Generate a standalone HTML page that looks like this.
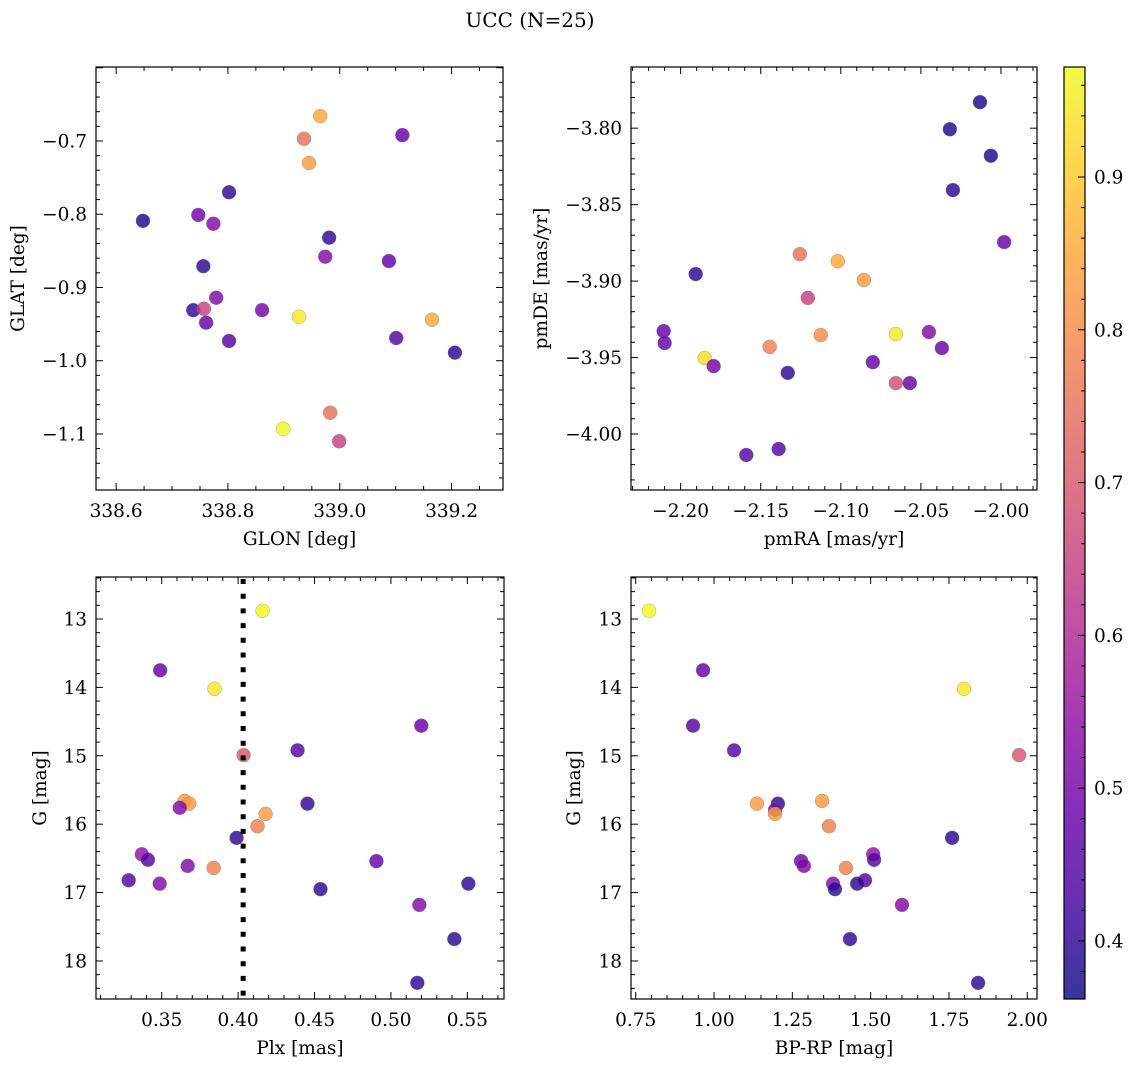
<!DOCTYPE html>
<html><head><meta charset="utf-8"><style>
html,body{margin:0;padding:0;background:#fff;}
svg{display:block;font-family:"DejaVu Serif","Liberation Serif",serif;}
</style></head><body>
<svg id="fig" width="1136" height="1067" viewBox="0 0 1136 1067" xmlns="http://www.w3.org/2000/svg">
<text x="530" y="27" font-size="20" text-anchor="middle">UCC (N=25)</text>
</svg>
<script>
// ---- data ----
const glon = [338.648,338.802,338.747,338.774,338.756,338.738,338.757,338.779,338.761,338.802,338.861,338.936,338.965,338.945,339.112,338.981,338.974,339.088,338.927,339.101,339.165,339.206,338.899,338.983,338.999];
const glat = [-0.809,-0.770,-0.801,-0.813,-0.871,-0.931,-0.929,-0.914,-0.948,-0.973,-0.931,-0.697,-0.666,-0.730,-0.692,-0.832,-0.858,-0.864,-0.940,-0.969,-0.944,-0.989,-1.093,-1.071,-1.110];
const cTL = [0.38,0.40,0.50,0.52,0.40,0.40,0.65,0.52,0.48,0.45,0.50,0.75,0.85,0.83,0.48,0.40,0.52,0.47,0.95,0.45,0.85,0.40,0.97,0.75,0.65];
const pmra = [-2.0131,-2.0319,-2.0063,-2.030,-1.998,-2.1906,-2.2106,-2.210,-2.185,-2.1794,-2.1256,-2.1206,-2.1019,-2.0856,-2.1125,-2.1444,-2.1331,-2.080,-2.0656,-2.045,-2.0369,-2.0656,-2.0569,-2.159,-2.1388];
const pmde = [-3.783,-3.8007,-3.818,-3.8405,-3.8745,-3.8954,-3.9327,-3.9405,-3.9503,-3.9556,-3.8824,-3.911,-3.887,-3.8993,-3.9353,-3.943,-3.960,-3.953,-3.9346,-3.9333,-3.9438,-3.9667,-3.9667,-4.0137,-4.0098];
const cTR = [0.38,0.38,0.38,0.40,0.48,0.40,0.48,0.48,0.93,0.50,0.75,0.65,0.85,0.83,0.80,0.78,0.40,0.48,0.95,0.52,0.48,0.68,0.48,0.45,0.45];
const plx = [0.416,0.349,0.3846,0.4036,0.4389,0.5199,0.365,0.368,0.3618,0.418,0.4127,0.4454,0.399,0.337,0.341,0.3284,0.367,0.384,0.3487,0.4905,0.4539,0.5507,0.5186,0.5415,0.5173];
const gBL = [12.88,13.75,14.02,14.99,14.92,14.56,15.66,15.70,15.76,15.85,16.03,15.70,16.20,16.44,16.52,16.82,16.61,16.64,16.87,16.54,16.95,16.87,17.18,17.68,18.32];
const cBL = [0.97,0.48,0.95,0.70,0.45,0.48,0.83,0.83,0.52,0.83,0.78,0.40,0.40,0.55,0.45,0.45,0.52,0.78,0.52,0.48,0.40,0.40,0.52,0.40,0.40];
const bprp = [0.7925,0.965,0.933,1.798,1.974,1.064,1.137,1.204,1.345,1.195,1.195,1.367,1.76,1.508,1.511,1.278,1.287,1.421,1.482,1.38,1.457,1.386,1.60,1.434,1.843];
const gBR = [12.88,13.75,14.56,14.02,14.99,14.92,15.70,15.70,15.66,15.79,15.85,16.03,16.20,16.44,16.52,16.54,16.61,16.64,16.82,16.87,16.87,16.95,17.18,17.68,18.32];
const cBR = [0.97,0.48,0.45,0.95,0.70,0.45,0.83,0.40,0.83,0.52,0.83,0.78,0.40,0.55,0.45,0.48,0.52,0.78,0.45,0.52,0.40,0.40,0.52,0.40,0.40];
const plxLine = [0.4033];
const ticksTLx = ["338.6","338.8","339.0","339.2"];
const ticksTLy = ["−0.7","−0.8","−0.9","−1.0","−1.1"];
const ticksTRx = ["−2.20","−2.15","−2.10","−2.05","−2.00"];
const ticksTRy = ["−3.80","−3.85","−3.90","−3.95","−4.00"];
const ticksBLx = ["0.35","0.40","0.45","0.50","0.55"];
const ticksG = ["13","14","15","16","17","18"];
const ticksBRx = ["0.75","1.00","1.25","1.50","1.75","2.00"];
const ticksCB = ["0.4","0.5","0.6","0.7","0.8","0.9"];
const cmin = 0.362, cmax = 0.972;

const NS = "http://www.w3.org/2000/svg";
const svg = document.getElementById('fig');
const FS = 18.5;
function mk(tag, attrs, parent){
  const e = document.createElementNS(NS, tag);
  for (const k in attrs) e.setAttribute(k, attrs[k]);
  (parent||svg).appendChild(e); return e;
}
const plasma = [[13,8,135],[65,4,157],[106,0,168],[143,13,164],[177,42,144],[204,71,120],[225,100,98],[242,132,75],[252,166,54],[252,206,37],[240,249,33]];
function cmap(v){
  let t = Math.max(0, Math.min(1, (v-cmin)/(cmax-cmin)));
  const p = t*10, i = Math.min(9, Math.floor(p)), f = p - i;
  const a = plasma[i], b = plasma[i+1];
  return 'rgb(' + [0,1,2].map(k => Math.round(a[k]+(b[k]-a[k])*f)).join(',') + ')';
}
function num(s){ return parseFloat(s.replace('−','-')); }

function panel(name, box, xd, yd, xt, yt, xminor, yminor, xlab, ylab, xs, ys, cs, vline){
  const [L,T,R,B] = box;
  const g = mk('g', {});
  
  
  const X = v => L + (v-xd[0])/(xd[1]-xd[0])*(R-L);
  const Y = v => T + (v-yd[0])/(yd[1]-yd[0])*(B-T);
  for (let i=0;i<xs.length;i++){
    const c = mk('circle', {cx:X(xs[i]), cy:Y(ys[i]), r:7, fill:cmap(cs[i]), 'fill-opacity':0.82, stroke:'#777', 'stroke-width':0.5, 'stroke-opacity':0.6}, g);
    
    
  }
  if (vline){
    const l = mk('line', {x1:X(vline[0]), x2:X(vline[0]), y1:T+2, y2:B, stroke:'#000', 'stroke-width':5, 'stroke-dasharray':'5 9.7'}, g);
    
    
  }
  const x0 = num(xt[0]), dx = (num(xt[1])-x0);
  for (let v = x0 - Math.ceil((x0-xd[0])/xminor)*xminor; v <= xd[1]+1e-9; v += xminor){
    const major = Math.abs(((v-x0)/dx) - Math.round((v-x0)/dx)) < 1e-6;
    const len = major?7:4, px = X(v);
    if (px < L-0.1 || px > R+0.1) continue;
    mk('line',{x1:px,x2:px,y1:B,y2:B-len,stroke:'#000','stroke-width':1},g);
    mk('line',{x1:px,x2:px,y1:T,y2:T+len,stroke:'#000','stroke-width':1},g);
  }
  const y0 = num(yt[0]), dy = (num(yt[1])-y0);
  const ylo = Math.min(yd[0],yd[1]), yhi = Math.max(yd[0],yd[1]);
  for (let v = y0 - Math.ceil((y0-ylo)/yminor)*yminor; v <= yhi+1e-9; v += yminor){
    if (v < ylo-1e-9) continue;
    const major = Math.abs(((v-y0)/dy) - Math.round((v-y0)/dy)) < 1e-6;
    const len = major?7:4, py = Y(v);
    mk('line',{x1:L,x2:L+len,y1:py,y2:py,stroke:'#000','stroke-width':1},g);
    mk('line',{x1:R,x2:R-len,y1:py,y2:py,stroke:'#000','stroke-width':1},g);
  }
  mk('rect',{x:L,y:T,width:R-L,height:B-T,fill:'none',stroke:'#000','stroke-width':1.2},g);
  xt.forEach(s => {
    const t = mk('text',{x:X(num(s)), y:B+27, 'font-size':FS, 'text-anchor':'middle'},g);
    t.textContent = s;
    
    
  });
  yt.forEach(s => {
    const t = mk('text',{x:L-9, y:Y(num(s))+6.5, 'font-size':FS, 'text-anchor':'end'},g);
    t.textContent = s;
    
    
  });
  const xl = mk('text',{x:(L+R)/2, y:B+55, 'font-size':FS, 'text-anchor':'middle'},g);
  xl.textContent = xlab;
  
  
  const yl = mk('text',{x:0, y:0, 'font-size':FS, 'text-anchor':'middle', transform:`translate(${ylab[1]},${(T+B)/2}) rotate(-90)`},g);
  yl.textContent = ylab[0];
  
  
}

panel('glon-glat-panel',[96,67,503,490],[338.564,339.292],[-0.599,-1.1765],ticksTLx,ticksTLy,0.05,0.02,'GLON [deg]',['GLAT [deg]',24],glon,glat,cTL);
panel('pm-panel',[631,67,1037,490],[-2.231,-1.9775],[-3.760,-4.0366],ticksTRx,ticksTRy,0.01,0.01,'pmRA [mas/yr]',['pmDE [mas/yr]',547],pmra,pmde,cTR);
panel('plx-g-panel',[96,577,504,999],[0.307,0.574],[12.386,18.556],ticksBLx,ticksG,0.01,0.2,'Plx [mas]',['G [mag]',46],plx,gBL,cBL,plxLine);
panel('cmd-panel',[631,577,1037,999],[0.735,2.031],[12.386,18.556],ticksBRx,ticksG,0.05,0.2,'BP-RP [mag]',['G [mag]',580],bprp,gBR,cBR);

(function(){
  const L=1064,R=1085,T=67,B=999;
  const g = mk('g',{});
  
  
  const Y = v => B - (v-cmin)/(cmax-cmin)*(B-T);
  const defs = mk('defs',{},g);
  const lg = mk('linearGradient',{id:'cbg',x1:0,y1:1,x2:0,y2:0},defs);
  for (let i=0;i<=20;i++){
    const v = cmin + (cmax-cmin)*i/20;
    mk('stop',{offset:(i/20),'stop-color':cmap(v),'stop-opacity':0.82},lg);
  }
  mk('rect',{x:L,y:T,width:R-L,height:B-T,fill:'url(#cbg)'},g);
  for (let v=0.36; v<=cmax+1e-9; v+=0.02){
    if (v < cmin) continue;
    const major = Math.abs(v*10 - Math.round(v*10)) < 1e-6;
    const py = Y(v), len = major?7:4;
    mk('line',{x1:R,x2:R-len,y1:py,y2:py,stroke:'#000','stroke-width':1},g);
  }
  mk('rect',{x:L,y:T,width:R-L,height:B-T,fill:'none',stroke:'#000','stroke-width':1.2},g);
  ticksCB.forEach(s => {
    const t = mk('text',{x:R+9,y:Y(num(s))+6.5,'font-size':FS},g);
    t.textContent = s;
    
    
  });
})();
</script>
</body></html>
